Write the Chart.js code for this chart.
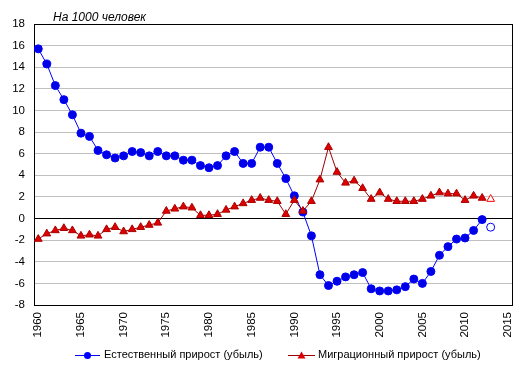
<!DOCTYPE html>
<html>
<head>
<meta charset="utf-8">
<script src="https://cdn.jsdelivr.net/npm/chart.js@4"></script>
<style>
  html, body { margin: 0; padding: 0; background: #fff; }
  #wrap { width: 522px; height: 373px; }
</style>
</head>
<body>
<div id="wrap"><canvas id="chart" width="522" height="373"></canvas></div>
<script>
// years with reported data
const years = [1960, 1961, 1962, 1963, 1964, 1965, 1966, 1967, 1968, 1969,
  1970, 1971, 1972, 1973, 1974, 1975, 1976, 1977, 1978, 1979,
  1980, 1981, 1982, 1983, 1984, 1985, 1986, 1987, 1988, 1989,
  1990, 1991, 1992, 1993, 1994, 1995, 1996, 1997, 1998, 1999,
  2000, 2001, 2002, 2003, 2004, 2005, 2006, 2007, 2008, 2009,
  2010, 2011, 2012];

// natural increase (decrease), per 1000
const natural = [15.7, 14.3, 12.3, 11.0, 9.6, 7.9, 7.6, 6.3, 5.9, 5.6,
  5.8, 6.2, 6.1, 5.8, 6.2, 5.8, 5.8, 5.4, 5.4, 4.9,
  4.7, 4.9, 5.8, 6.2, 5.1, 5.1, 6.6, 6.6, 5.1, 3.7,
  2.1, 0.6, -1.6, -5.2, -6.2, -5.8, -5.4, -5.2, -5.0, -6.5,
  -6.7, -6.7, -6.6, -6.3, -5.6, -6.0, -4.9, -3.4, -2.6, -1.9,
  -1.8, -1.1, -0.1];

// migration increase (decrease), per 1000
const migration = [-1.9, -1.4, -1.1, -0.9, -1.1, -1.6, -1.5, -1.6, -1.0, -0.8,
  -1.2, -1.0, -0.8, -0.6, -0.4, 0.7, 0.9, 1.1, 1.0, 0.3,
  0.3, 0.4, 0.8, 1.1, 1.4, 1.7, 1.9, 1.7, 1.6, 0.4,
  1.7, 0.7, 1.6, 3.6, 6.6, 4.3, 3.3, 3.5, 2.8, 1.8,
  2.4, 1.8, 1.6, 1.6, 1.6, 1.8, 2.1, 2.4, 2.3, 2.3,
  1.7, 2.1, 1.9];

// preliminary estimate (hollow markers)
const estYear = [2013];
const estNatural = [-0.8];
const estMigration = [1.8];

const xTicks = [1960, 1965, 1970, 1975, 1980, 1985, 1990, 1995, 2000, 2005, 2010, 2015];
const seriesNames = ["Естественный прирост (убыль)", "Миграционный прирост (убыль)"];
const unitLabel = "На 1000 человек";

const FONT = "'Liberation Sans', Arial, sans-serif";
const BLUE = "#0000ff";
const RED_LINE = "#990000";
const RED_FILL = "#dd0000";

const toPoints = (xs, ys) => xs.map((x, i) => ({ x: x, y: ys[i] }));

// unit label, plot frame and legend
const extras = {
  id: "extras",
  beforeDatasetsDraw(chart) {
    const { ctx, chartArea: a } = chart;
    ctx.save();
    ctx.strokeStyle = "#000";
    ctx.lineWidth = 1;
    ctx.strokeRect(Math.round(a.left) + 0.5, Math.round(a.top) + 0.5,
      Math.round(a.right - a.left), Math.round(a.bottom - a.top));
    ctx.restore();
  },
  afterDraw(chart) {
    const { ctx, chartArea: a } = chart;
    ctx.save();
    ctx.fillStyle = "#000";
    ctx.font = "italic 12px " + FONT;
    ctx.textBaseline = "middle";
    ctx.fillText(unitLabel, a.left + 19, 18);

    // legend
    const y = 355;
    ctx.font = "11px " + FONT;
    ctx.lineWidth = 1;
    // item 1
    ctx.strokeStyle = BLUE;
    ctx.beginPath(); ctx.moveTo(75, y + 0.5); ctx.lineTo(100, y + 0.5); ctx.stroke();
    ctx.fillStyle = BLUE;
    ctx.beginPath(); ctx.arc(87.5, y + 0.5, 3.5, 0, Math.PI * 2); ctx.fill();
    ctx.fillStyle = "#000";
    ctx.fillText(seriesNames[0], 104, y);
    // item 2
    ctx.strokeStyle = RED_LINE;
    ctx.beginPath(); ctx.moveTo(288, y + 0.5); ctx.lineTo(315, y + 0.5); ctx.stroke();
    ctx.fillStyle = RED_FILL;
    ctx.beginPath();
    ctx.moveTo(301.5, y - 3.5); ctx.lineTo(305.5, y + 3.5); ctx.lineTo(297.5, y + 3.5);
    ctx.closePath(); ctx.fill();
    ctx.fillStyle = "#000";
    ctx.fillText(seriesNames[1], 318, y);
    ctx.restore();
  }
};

new Chart(document.getElementById("chart"), {
  type: "line",
  data: {
    datasets: [
      {
        label: seriesNames[0],
        data: toPoints(years, natural),
        borderColor: BLUE,
        borderWidth: 1,
        pointStyle: "circle",
        pointRadius: 4,
        pointBackgroundColor: "#0000e6",
        pointBorderColor: BLUE,
        order: 2
      },
      {
        label: seriesNames[1],
        data: toPoints(years, migration),
        borderColor: RED_LINE,
        borderWidth: 1,
        pointStyle: "triangle",
        pointRadius: 4.5,
        pointBackgroundColor: RED_FILL,
        pointBorderColor: "#aa0000",
        order: 1
      },
      {
        label: "est1",
        data: toPoints(estYear, estNatural),
        showLine: false,
        pointStyle: "circle",
        pointRadius: 4,
        pointBackgroundColor: "#fff",
        pointBorderColor: BLUE,
        pointBorderWidth: 1,
        order: 2
      },
      {
        label: "est2",
        data: toPoints(estYear, estMigration),
        showLine: false,
        pointStyle: "triangle",
        pointRadius: 4.5,
        pointBackgroundColor: "#fff",
        pointBorderColor: "#ff0000",
        pointBorderWidth: 1,
        order: 1
      }
    ]
  },
  options: {
    responsive: false,
    animation: false,
    layout: { padding: { left: 0, right: 10, top: 24, bottom: 28 } },
    plugins: {
      legend: { display: false },
      title: { display: false },
      tooltip: { enabled: false }
    },
    scales: {
      x: {
        type: "linear",
        min: 1959.5,
        max: 2015.5,
        afterBuildTicks: (scale) => { scale.ticks = xTicks.map(v => ({ value: v })); },
        afterFit: (scale) => {
          scale.height = 40;
          scale.paddingLeft = 0;
          scale.paddingRight = 0;
        },
        grid: { display: false, drawTicks: false },
        border: { display: true, color: "#000" },
        ticks: {
          autoSkip: false,
          minRotation: 90,
          maxRotation: 90,
          padding: 7,
          color: "#000",
          font: { family: FONT, size: 11.5 },
          callback: (v) => String(v)
        }
      },
      y: {
        min: -8,
        max: 18,
        afterFit: (scale) => { scale.width = 34; },
        grid: {
          drawTicks: false,
          color: (c) => (c.tick && (c.tick.value === 0 || c.tick.value === 18 || c.tick.value === -8)) ? "#000" : "#c0c0c0"
        },
        border: { display: true, color: "#000" },
        ticks: {
          stepSize: 2,
          padding: 9,
          color: "#000",
          font: { family: FONT, size: 11.5 }
        }
      }
    }
  },
  plugins: [extras]
});
</script>
</body>
</html>
